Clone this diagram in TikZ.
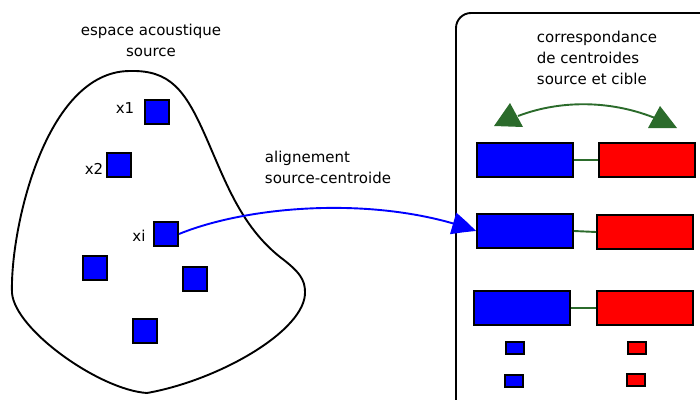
\documentclass[tikz,border=0pt]{standalone}
\usepackage{fontspec}
\setmainfont{DejaVu Sans}
\usetikzlibrary{arrows.meta,bending}
\definecolor{dunkelgruen}{RGB}{43,107,43}
\def\schrift{\fontsize{15}{21}\selectfont}

\begin{document}
\begin{tikzpicture}[x=1pt,y=-1pt,line width=1.9pt,
	punkt/.style={draw=black,fill=blue,inner sep=0pt,minimum size=24pt},
	quelle/.style={draw=black,fill=blue,inner sep=0pt,minimum width=96pt,minimum height=34pt},
	ziel/.style={quelle,fill=red},
	klein/.style={draw=black,fill=#1,line width=1.4pt,inner sep=0pt,minimum width=18pt,minimum height=12pt},
	beschr/.style={font=\schrift,inner sep=0pt,align=left}]

\useasboundingbox (0,0) rectangle (700,399);
\clip (0,0) rectangle (700,399);

% akustischer Raum
\draw (130,71) .. controls (170,70) and (185,90) .. (205,135)
	.. controls (225,180) and (240,225) .. (280,257)
	.. controls (300,272) and (305,280) .. (305,292)
	.. controls (306,330) and (220,380) .. (147,393)
	.. controls (100,390) and (15,330) .. (12,293)
	.. controls (10,230) and (45,71) .. (130,71);

\node[beschr,align=center] (titel) at (151,40) {espace acoustique\\source};

\node[punkt] (x1) at (157,112) {};
\node[punkt] (x2) at (119,165) {};
\node[punkt] (xi) at (166,234) {};
\node[punkt] (xa) at (95,268) {};
\node[punkt] (xb) at (195,279) {};
\node[punkt] (xc) at (145,331) {};

\node[beschr] (lx1) at (125,108) {x1};
\node[beschr] (lx2) at (94,169) {x2};
\node[beschr] (lxi) at (139,236) {xi};

% Centroide
\draw[rounded corners=15pt] (456,13) rectangle (720,430);

\node[beschr,anchor=west] (corr) at (536,58) {correspondance\\de centroides\\source et cible};

\node[quelle] (q1) at (525,160) {};
\node[quelle] (q2) at (525,231) {};
\node[quelle] (q3) at (522,308) {};
\node[ziel] (z1) at (647,160) {};
\node[ziel] (z2) at (645,232) {};
\node[ziel] (z3) at (645,308) {};

\draw[dunkelgruen] (q1.east) -- (z1.west);
\draw[dunkelgruen] (q2.east) -- (z2.west);
\draw[dunkelgruen] (q3.east) -- (z3.west);

\node[klein=blue] (q4) at (515,348) {};
\node[klein=blue] (q5) at (514,381) {};
\node[klein=red] (z4) at (637,348) {};
\node[klein=red] (z5) at (636,380) {};

% Zuordnung
\draw[dunkelgruen] (518,116) .. controls (560,100) and (610,100) .. (655,118);
\fill[dunkelgruen] (494,126) -- (510,103) -- (523,127) -- cycle;
\fill[dunkelgruen] (648,128) -- (660,106) -- (677,128) -- cycle;

% Ausrichtung
\node[beschr,anchor=west] (ausr) at (264,167) {alignement\\source-centroide};
\draw[blue,-{Triangle[length=24pt,width=22pt,bend]}] (xi.east)
	.. controls (250,205) and (380,195) .. (q2.west);

\end{tikzpicture}
\end{document}
